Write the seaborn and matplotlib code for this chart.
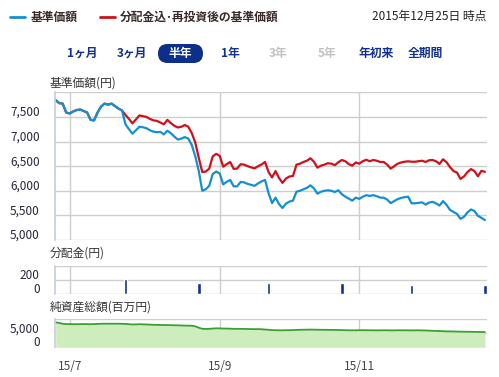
import numpy as np
import pandas as pd
import matplotlib
matplotlib.use('Agg')
import matplotlib.pyplot as plt
import matplotlib.transforms as mtransforms
from matplotlib.lines import Line2D
from matplotlib.patches import FancyBboxPatch
import seaborn as sns

# trading days (Japanese business days) of the half-year window
holidays = ['2015-07-20', '2015-09-21', '2015-09-22', '2015-09-23',
            '2015-10-12', '2015-11-03', '2015-11-23', '2015-12-23']
dates = pd.bdate_range('2015-06-25', '2015-12-25', freq='C', holidays=holidays)

# 基準価額 (yen)
nav_price = [
    7840, 7780, 7770, 7590, 7570, 7610, 7640, 7650, 7620, 7590,
    7440, 7430, 7590, 7710, 7770, 7750, 7770, 7720, 7670, 7630,
    7350, 7250, 7160, 7230, 7300, 7290, 7270, 7230, 7200, 7190,
    7195, 7145, 7220, 7170, 7100, 7040, 7060, 7090, 7060, 6930,
    6700, 6400, 6000, 6030, 6100, 6340, 6390, 6350, 6130, 6180,
    6220, 6090, 6090, 6180, 6170, 6140, 6120, 6100, 6150, 6190,
    6220, 5950, 5750, 5860, 5730, 5650, 5740, 5780, 5800, 5980,
    6000, 6030, 6060, 6110, 6050, 5940, 5980, 6000, 6010, 6000,
    5975, 6010, 5930, 5880, 5840, 5800, 5860, 5835, 5880, 5910,
    5895, 5910, 5890, 5860, 5860, 5820, 5750, 5790, 5830, 5855,
    5870, 5880, 5745, 5745, 5755, 5765, 5720, 5760, 5775, 5745,
    5700, 5790, 5715, 5610, 5570, 5530, 5430, 5470, 5560, 5620,
    5590, 5490, 5450, 5405,
]

# 分配金込・再投資後の基準価額 (yen)
nav_reinvest = [
    7840, 7780, 7770, 7590, 7570, 7610, 7640, 7650, 7620, 7590,
    7440, 7430, 7590, 7710, 7770, 7750, 7770, 7720, 7670, 7630,
    7540, 7460, 7370, 7450, 7530, 7515, 7500, 7460, 7430, 7420,
    7385, 7350, 7440, 7375, 7320, 7285, 7300, 7335, 7300, 7170,
    6980, 6670, 6380, 6390, 6450, 6700, 6750, 6710, 6490, 6540,
    6585, 6445, 6450, 6540, 6530, 6500, 6475, 6455, 6500, 6535,
    6585, 6380, 6270, 6400, 6260, 6160, 6250, 6290, 6300, 6530,
    6550, 6585, 6610, 6660, 6590, 6470, 6510, 6530, 6560, 6550,
    6520, 6580, 6625, 6600, 6540, 6510, 6575, 6550, 6600, 6630,
    6600, 6625, 6610, 6585, 6585, 6530, 6450, 6500, 6550, 6575,
    6590, 6598, 6590, 6590, 6600, 6610, 6585, 6620, 6625, 6600,
    6545, 6640, 6580, 6480, 6400, 6370, 6240, 6290, 6380, 6440,
    6400, 6295, 6405, 6385,
]

# 純資産総額 (million yen)
net_assets = [
    8900, 8700, 8400, 8300, 8280, 8250, 8250, 8280, 8300, 8280,
    8250, 8300, 8350, 8400, 8430, 8430, 8420, 8430, 8420, 8400,
    8350, 8250, 8150, 8200, 8250, 8200, 8150, 8100, 8050, 8000,
    7980, 7950, 7950, 7900, 7880, 7850, 7800, 7750, 7720, 7700,
    7500, 7000, 6600, 6550, 6600, 6700, 6780, 6750, 6700, 6700,
    6650, 6600, 6600, 6580, 6560, 6540, 6500, 6500, 6480, 6450,
    6350, 6250, 6150, 6100, 6080, 6070, 6100, 6100, 6150, 6200,
    6250, 6280, 6300, 6320, 6300, 6280, 6250, 6250, 6230, 6200,
    6200, 6180, 6150, 6100, 6080, 6070, 6080, 6100, 6100, 6100,
    6080, 6070, 6060, 6070, 6080, 6070, 6050, 6050, 6070, 6080,
    6080, 6060, 6050, 6060, 6070, 6050, 6000, 5950, 5900, 5850,
    5800, 5750, 5700, 5680, 5650, 5620, 5580, 5560, 5550, 5530,
    5500, 5480, 5460, 5440,
]

# 分配金 (yen)
div_dates = ['2015-07-24', '2015-08-24', '2015-09-24',
             '2015-10-26', '2015-11-25', '2015-12-25']
div_values = [220, 160, 165, 160, 140, 140]

tick_months = ['2015-07-01', '2015-09-01', '2015-11-01']
tick_labels = ['15/7', '15/9', '15/11']

period_buttons = ['1ヶ月', '3ヶ月', '半年', '1年', '3年', '5年', '年初来', '全期間']
button_state = ['on', 'on', 'active', 'on', 'off', 'off', 'on', 'on']

BLUE = '#1590cf'
RED = '#d0101c'
NAVY = '#12308e'
GRID = '#cbd0cb'
TXT = '#333333'

sns.set_style('white')
plt.rcParams['font.family'] = ['Noto Sans CJK JP', 'DejaVu Sans']

W, H = 499, 377
fig = plt.figure(figsize=(W / 100, H / 100), dpi=100)


def fx(px):
    return px / W


def fy(py):
    return 1 - py / H


def panel(top, bottom):
    return fig.add_axes([fx(55), fy(bottom), fx(487) - fx(55), fy(top) - fy(bottom)])


x = np.arange(len(dates))
xticks = [int(np.searchsorted(dates, pd.Timestamp(d))) for d in tick_months]
div_x = [int(np.searchsorted(dates, pd.Timestamp(d))) for d in div_dates]

ax1 = panel(92.3, 240)
ax2 = panel(266.3, 294.3)
ax3 = panel(319.3, 347.3)

# main chart
sns.lineplot(x=x, y=nav_reinvest, ax=ax1, color=RED, linewidth=1.6)
sns.lineplot(x=x, y=nav_price, ax=ax1, color=BLUE, linewidth=1.6)
ax1.set_ylim(5000, 8000)
ax1.set_yticks([5000, 5500, 6000, 6500, 7000, 7500, 8000])
ax1.set_yticklabels(['5,000', '5,500', '6,000', '6,500', '7,000', '7,500', ''])

# distributions
ax2.bar(div_x, div_values, width=1.0, color=NAVY)
ax2.set_ylim(0, 400)
ax2.set_yticks([0, 200, 400])
ax2.set_yticklabels(['0', '200', ''])

# net assets
sns.lineplot(x=x, y=net_assets, ax=ax3, color='#3d9e35', linewidth=1.3)
ax3.fill_between(x, net_assets, 0, color='#cdeebc', lw=0)
ax3.set_ylim(0, 10000)
ax3.set_yticks([0, 5000, 10000])
ax3.set_yticklabels(['0', '5,000', ''])

lift = mtransforms.ScaledTranslation(0, 6 / 100, fig.dpi_scale_trans)
for ax in (ax1, ax2, ax3):
    ax.set_xlim(-0.2, 123.6)
    ax.set_xticks(xticks)
    ax.grid(True, color=GRID, linewidth=1.0)
    ax.set_axisbelow(True)
    for s in ('top', 'right', 'bottom'):
        ax.spines[s].set_visible(False)
    ax.spines['left'].set_color('#c3cde3')
    ax.spines['left'].set_linestyle((0, (1, 1)))
    ax.spines['left'].set_linewidth(1.2)
    ax.set_xlabel('')
    ax.set_ylabel('')
    ax.tick_params(axis='y', length=0, pad=11, labelsize=8.5, labelcolor='#26263a')
    for lbl in ax.get_yticklabels():
        lbl.set_transform(lbl.get_transform() + lift)

for ax in (ax1, ax2):
    ax.tick_params(axis='x', length=0, labelbottom=False)
ax3.set_xticklabels(tick_labels)
ax3.tick_params(axis='x', length=5.5, width=0.8, color='#bcd0e6', pad=4,
                labelsize=8.5, labelcolor='#444444')

# panel titles
fig.text(fx(50), fy(83), '基準価額(円)', fontsize=8.5, color=TXT, va='center')
fig.text(fx(50), fy(253), '分配金(円)', fontsize=8.5, color=TXT, va='center')
fig.text(fx(50), fy(307), '純資産総額(百万円)', fontsize=8.5, color=TXT, va='center')

# legend
fig.add_artist(Line2D([fx(10), fx(25)], [fy(17), fy(17)], color=BLUE, lw=2))
fig.text(fx(31), fy(17), '基準価額', fontsize=8.5, fontweight='bold', color='#3a2a2a', va='center')
fig.add_artist(Line2D([fx(100), fx(115)], [fy(17), fy(17)], color=RED, lw=2))
fig.text(fx(120), fy(17), '分配金込･再投資後の基準価額', fontsize=8.5, fontweight='bold',
         color='#3a2a2a', va='center')
fig.text(fx(486), fy(16), '2015年12月25日 時点', fontsize=8.5, color='#222222',
         va='center', ha='right')

# period buttons
btn_x = [82.5, 131.5, 180.5, 230, 278, 327, 376, 425]
fig.add_artist(FancyBboxPatch((158 / 100, (H - 63) / 100), 45 / 100, 19 / 100,
                              boxstyle='round,pad=0,rounding_size=0.095',
                              transform=fig.dpi_scale_trans, color='#0c2f8c', lw=0))
for label, bx, state in zip(period_buttons, btn_x, button_state):
    col = {'on': NAVY, 'off': '#c2c2c2', 'active': 'white'}[state]
    fig.text(fx(bx), fy(53.5), label, fontsize=8.5, fontweight='bold', color=col,
             ha='center', va='center')

fig.savefig('out.png', dpi=100)
